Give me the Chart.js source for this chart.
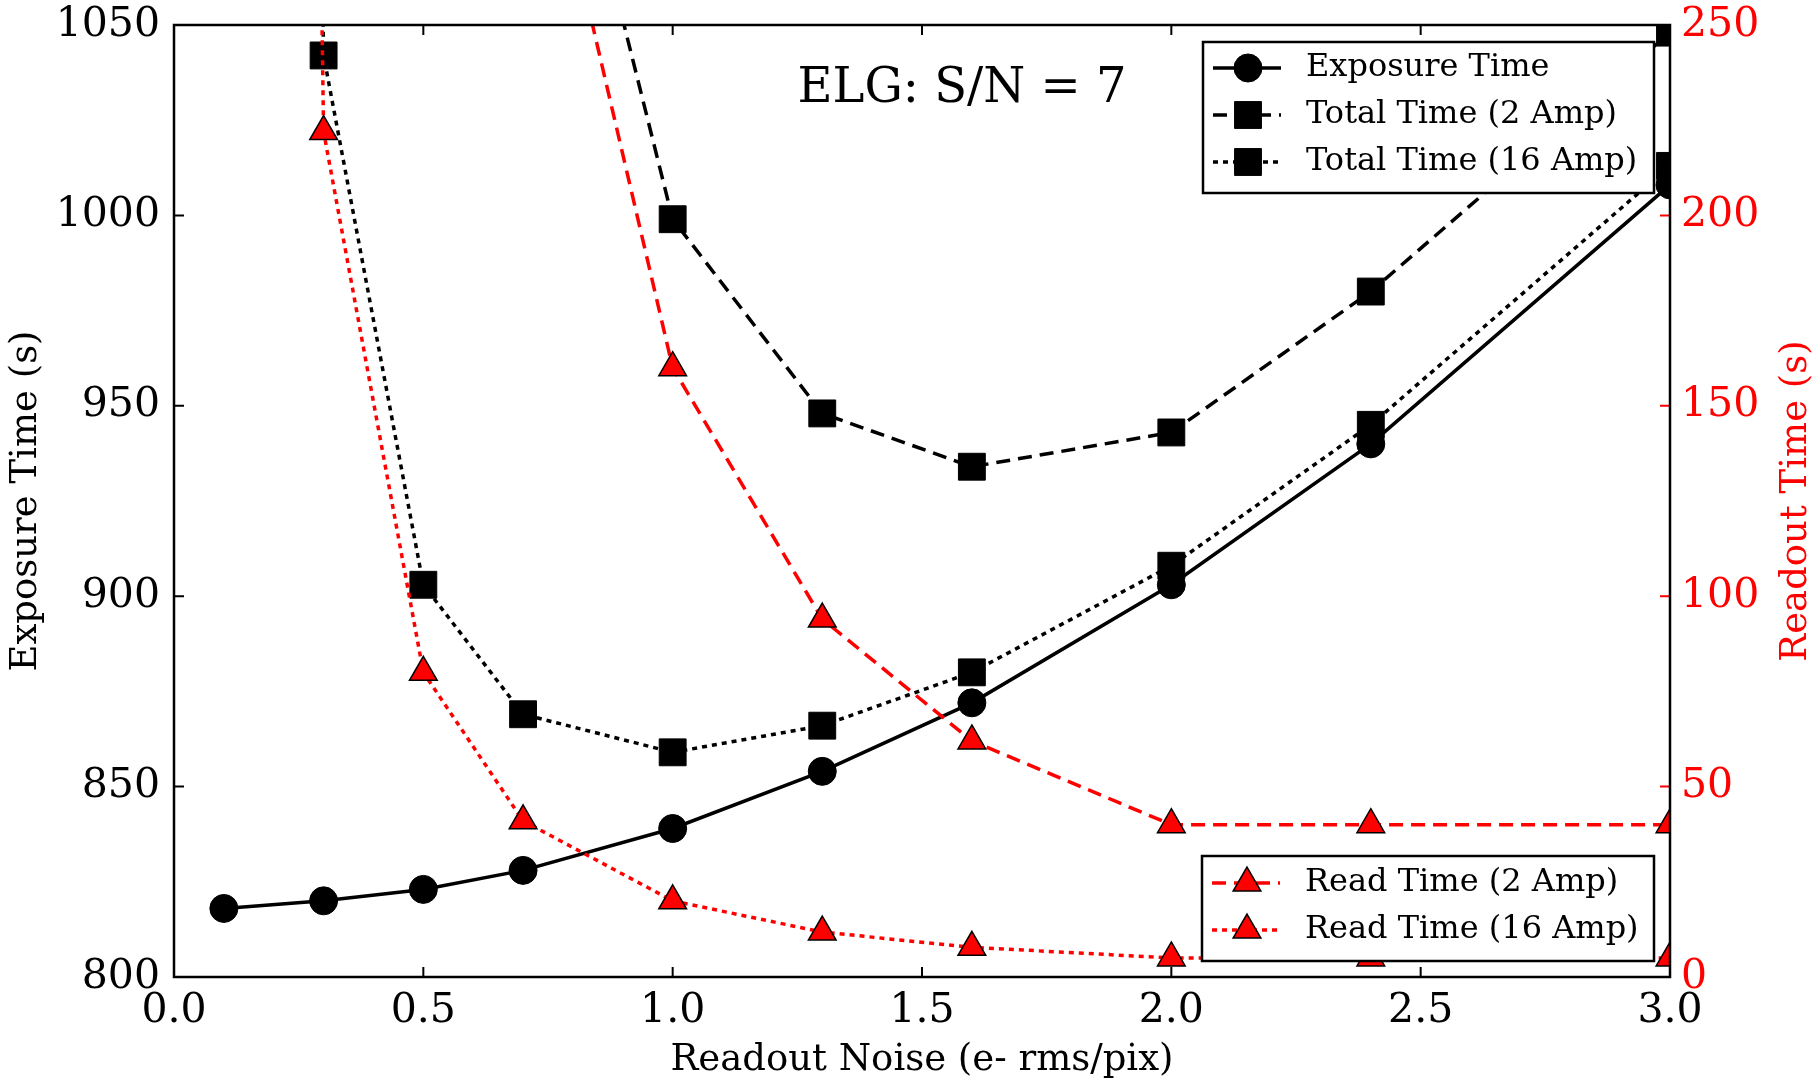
<!DOCTYPE html>
<html>
<head>
<meta charset="utf-8">
<script src="https://cdn.jsdelivr.net/npm/chart.js@4.4.0/dist/chart.umd.min.js"></script>
<style>
  html, body { margin: 0; padding: 0; background: #fff; }
  canvas { display: block; }
</style>
</head>
<body>
<canvas id="noiseChart" width="1815" height="1078"></canvas>
<script>
// readout noise (e- rms/pix)
const noise = [0.1, 0.3, 0.5, 0.7, 1.0, 1.3, 1.6, 2.0, 2.4, 3.0];
// left axis (s)
const exposureTime = [818, 820, 823, 828, 839, 854, 872, 903, 940, 1008];
const totalTime2Amp = [16818, 2596, 1463, 1156, 999, 948, 934, 943, 980, 1048];
const totalTime16Amp = [2818, 1042, 903, 869, 859, 866, 880, 908, 945, 1013];
// right axis (s)
const readTime2Amp = [16000, 1776, 640, 328, 160, 94, 62, 40, 40, 40];
const readTime16Amp = [2000, 222, 80, 41, 20, 11.8, 7.8, 5, 5, 5];

const xTicks = [0, 0.5, 1.0, 1.5, 2.0, 2.5, 3.0];
const leftTicks = [800, 850, 900, 950, 1000, 1050];
const rightTicks = [0, 50, 100, 150, 200, 250];

const FONT = "'DejaVu Serif', serif";
const RED = '#ff0000';

function pts(ys) {
    return noise.map((x, i) => ({ x: x, y: ys[i] }));
}

const blackStyles = {
    exposure: { dash: [], style: 'circle', radius: 14, fill: '#000', border: '#000', bw: 1 },
    total2: { dash: [14, 8], style: 'rect', radius: 19, fill: '#000', border: '#000', bw: 1 },
    total16: { dash: [5, 5], style: 'rect', radius: 19, fill: '#000', border: '#000', bw: 1 }
};
const redStyles = {
    read2: { dash: [14, 8], style: 'triangle', radius: 16, fill: RED, border: '#000', bw: 1.5 },
    read16: { dash: [5, 5], style: 'triangle', radius: 16, fill: RED, border: '#000', bw: 1.5 }
};

function makeSet(label, data, st, lineColor, axis, order) {
    return {
        label: label,
        data: pts(data),
        yAxisID: axis,
        borderColor: lineColor,
        borderWidth: 3.5,
        borderDash: st.dash,
        pointStyle: st.style,
        pointRadius: st.radius,
        pointBackgroundColor: st.fill,
        pointBorderColor: st.border,
        pointBorderWidth: st.bw,
        pointHoverRadius: st.radius,
        tension: 0,
        fill: false,
        clip: 0,
        order: order
    };
}

const legendTop = [
    ['Exposure Time', blackStyles.exposure, '#000'],
    ['Total Time (2 Amp)', blackStyles.total2, '#000'],
    ['Total Time (16 Amp)', blackStyles.total16, '#000']
];
const legendBottom = [
    ['Read Time (2 Amp)', redStyles.read2, RED],
    ['Read Time (16 Amp)', redStyles.read16, RED]
];

function drawLegend(ctx, items, box, rowY) {
    ctx.save();
    ctx.fillStyle = '#fff';
    ctx.fillRect(box.x, box.y, box.w, box.h);
    ctx.lineWidth = 2.5;
    ctx.strokeStyle = '#000';
    ctx.strokeRect(box.x, box.y, box.w, box.h);
    items.forEach((it, i) => {
        const y = rowY[i];
        const st = it[1];
        ctx.save();
        ctx.strokeStyle = it[2];
        ctx.lineWidth = 3.5;
        ctx.setLineDash(st.dash);
        ctx.beginPath();
        ctx.moveTo(box.x + 10, y);
        ctx.lineTo(box.x + 78, y);
        ctx.stroke();
        ctx.restore();
        ctx.save();
        ctx.fillStyle = st.fill;
        ctx.strokeStyle = st.border;
        ctx.lineWidth = st.bw;
        Chart.helpers.drawPoint(ctx, { pointStyle: st.style, radius: st.radius, rotation: 0, borderWidth: st.bw }, box.x + 45, y);
        ctx.restore();
        ctx.fillStyle = '#000';
        ctx.font = '32px ' + FONT;
        ctx.textBaseline = 'middle';
        ctx.textAlign = 'left';
        ctx.fillText(it[0], box.x + 103, y);
    });
    ctx.restore();
}

const decorations = {
    id: 'decorations',
    afterDatasetsDraw(chart) {
        const ctx = chart.ctx;
        const a = chart.chartArea;
        const sx = chart.scales.x, sl = chart.scales.yLeft, sr = chart.scales.yRight;

        // legends
        drawLegend(ctx, legendTop, { x: a.right - 467, y: a.top + 17, w: 451, h: 151 },
            [a.top + 43, a.top + 90, a.top + 137]);
        drawLegend(ctx, legendBottom, { x: a.right - 468, y: a.bottom - 121, w: 452, h: 105 },
            [a.bottom - 94, a.bottom - 47]);

        // inward ticks
        ctx.save();
        ctx.lineWidth = 2;
        ctx.strokeStyle = '#000';
        ctx.beginPath();
        sx.ticks.forEach(t => {
            const px = sx.getPixelForValue(t.value);
            ctx.moveTo(px, a.bottom); ctx.lineTo(px, a.bottom - 10);
            ctx.moveTo(px, a.top); ctx.lineTo(px, a.top + 10);
        });
        sl.ticks.forEach(t => {
            const py = sl.getPixelForValue(t.value);
            ctx.moveTo(a.left, py); ctx.lineTo(a.left + 10, py);
        });
        ctx.stroke();
        ctx.strokeStyle = RED;
        ctx.beginPath();
        sr.ticks.forEach(t => {
            const py = sr.getPixelForValue(t.value);
            ctx.moveTo(a.right, py); ctx.lineTo(a.right - 10, py);
        });
        ctx.stroke();

        // frame
        ctx.lineWidth = 2.5;
        ctx.strokeStyle = '#000';
        ctx.strokeRect(a.left, a.top, a.right - a.left, a.bottom - a.top);

        // annotation
        ctx.fillStyle = '#000';
        ctx.font = '48px ' + FONT;
        ctx.textAlign = 'center';
        ctx.textBaseline = 'alphabetic';
        ctx.fillText('ELG: S/N = 7', a.left + 788, a.top + 77);

        // axis titles
        ctx.font = '37px ' + FONT;
        ctx.fillText('Readout Noise (e- rms/pix)', (a.left + a.right) / 2, a.bottom + 93);
        const midY = (a.top + a.bottom) / 2;
        ctx.save();
        ctx.translate(36, midY);
        ctx.rotate(-Math.PI / 2);
        ctx.fillText('Exposure Time (s)', 0, 0);
        ctx.restore();
        ctx.save();
        ctx.fillStyle = RED;
        ctx.translate(1806, midY);
        ctx.rotate(-Math.PI / 2);
        ctx.fillText('Readout Time (s)', 0, 0);
        ctx.restore();
        ctx.restore();
    }
};

// keep tick labels from pushing the plot area around
function fixY(width) {
    return s => { s.width = width; s.paddingTop = 0; s.paddingBottom = 0; };
}

const ctx = document.getElementById('noiseChart').getContext('2d');
const noiseChart = new Chart(ctx, {
    type: 'line',
    data: {
        datasets: [
            makeSet('Read Time (2 Amp)', readTime2Amp, redStyles.read2, RED, 'yRight', 0),
            makeSet('Read Time (16 Amp)', readTime16Amp, redStyles.read16, RED, 'yRight', 0),
            makeSet('Exposure Time', exposureTime, blackStyles.exposure, '#000', 'yLeft', 1),
            makeSet('Total Time (2 Amp)', totalTime2Amp, blackStyles.total2, '#000', 'yLeft', 1),
            makeSet('Total Time (16 Amp)', totalTime16Amp, blackStyles.total16, '#000', 'yLeft', 1)
        ]
    },
    options: {
        responsive: false,
        animation: false,
        devicePixelRatio: 1,
        layout: { padding: { top: 25, left: 0, right: 0, bottom: 0 } },
        plugins: {
            legend: { display: false },
            tooltip: { enabled: false }
        },
        scales: {
            x: {
                type: 'linear',
                min: 0,
                max: 3,
                afterBuildTicks: s => { s.ticks = xTicks.map(v => ({ value: v })); },
                afterFit: s => { s.height = 101; s.paddingLeft = 0; s.paddingRight = 0; },
                grid: { display: false, drawTicks: false },
                border: { display: false },
                ticks: {
                    color: '#000',
                    padding: 10,
                    font: { family: FONT, size: 41 },
                    maxRotation: 0,
                    callback: v => Number(v).toFixed(1)
                }
            },
            yLeft: {
                type: 'linear',
                position: 'left',
                min: 800,
                max: 1050,
                afterBuildTicks: s => { s.ticks = leftTicks.map(v => ({ value: v })); },
                afterFit: fixY(174),
                grid: { display: false, drawTicks: false },
                border: { display: false },
                ticks: {
                    color: '#000',
                    padding: 14,
                    font: { family: FONT, size: 41 },
                    callback: v => String(v)
                }
            },
            yRight: {
                type: 'linear',
                position: 'right',
                min: 0,
                max: 250,
                afterBuildTicks: s => { s.ticks = rightTicks.map(v => ({ value: v })); },
                afterFit: fixY(145),
                grid: { display: false, drawTicks: false },
                border: { display: false },
                ticks: {
                    color: RED,
                    padding: 11,
                    font: { family: FONT, size: 41 },
                    callback: v => String(v)
                }
            }
        }
    },
    plugins: [decorations]
});
</script>
</body>
</html>
